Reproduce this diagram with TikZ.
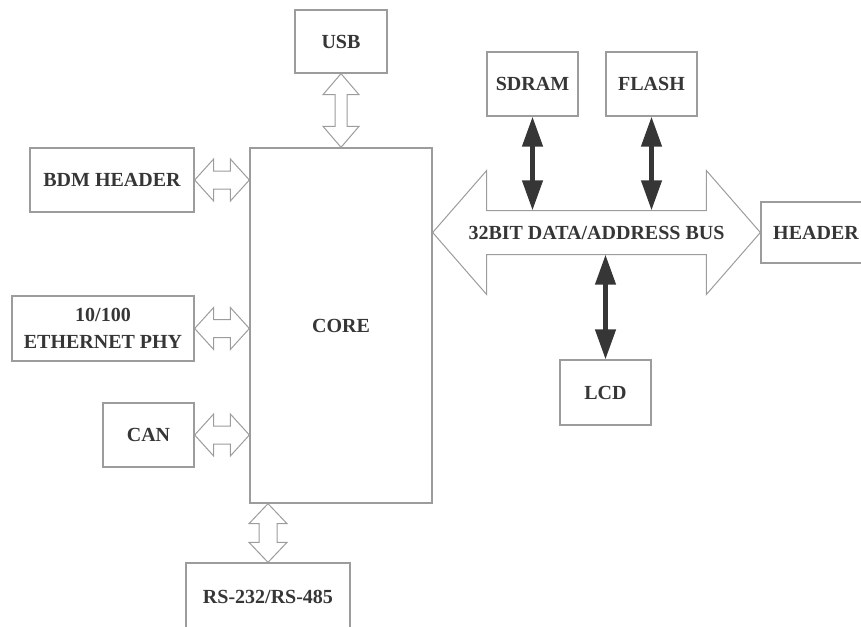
\documentclass[tikz,border=0pt]{standalone}
\usepackage{fontspec}
\setmainfont{Liberation Serif}
\usetikzlibrary{arrows.meta, calc}
\definecolor{boxgray}{HTML}{9C9C9C}
\definecolor{inkgray}{HTML}{363636}
\tikzset{
    blk/.style={draw=boxgray, line width=1.3pt, text=inkgray, inner sep=0pt, align=center,
        font=\bfseries\fontsize{20}{27}\selectfont},
    cell/.style={blk, minimum width=91, minimum height=64},
    hollow/.style={draw=boxgray, line width=1pt, fill=white, line join=miter},
    busline/.style={{Triangle[length=30pt,width=20pt]}-{Triangle[length=30pt,width=20pt]},
        draw=inkgray, line width=4.5pt},
}
\newcommand{\hollowarrow}[5]{%
    \coordinate (ha) at ($(#1)!#5!(#2)$);
    \coordinate (hb) at ($(#2)!#5!(#1)$);
    \draw[hollow] (#1) -- ($(ha)!#4!90:(#2)$) -- ($(ha)!#3!90:(#2)$)
        -- ($(hb)!#3!-90:(#1)$) -- ($(hb)!#4!-90:(#1)$) -- (#2)
        -- ($(hb)!#4!90:(#1)$) -- ($(hb)!#3!90:(#1)$)
        -- ($(ha)!#3!-90:(#2)$) -- ($(ha)!#4!-90:(#2)$) -- cycle;
}

\begin{document}
\begin{tikzpicture}[x=1pt, y=-1pt]
    \useasboundingbox (0,0) rectangle (861,626);

    \node[blk, minimum width=182, minimum height=355] (core) at (341,325.5) {CORE};
    \node[blk, minimum width=92, minimum height=63] (usb) at (341,41.5) {USB};
    \node[blk, minimum width=164, minimum height=64] (bdm) at (112,180) {BDM HEADER};
    \node[blk, minimum width=182, minimum height=65] (eth) at (103,328.5) {10/100\\ETHERNET PHY};
    \node[cell] (can) at (148.5,435) {CAN};
    \node[blk, minimum width=164, minimum height=68] (rs) at (268,597) {RS-232/RS-485};
    \node[cell] (sdram) at (532.5,84) {SDRAM};
    \node[cell] (flash) at (651.5,84) {FLASH};
    \node[blk, minimum width=110, minimum height=61] (header) at (816,232.5) {HEADER};
    \node[cell, minimum height=65] (lcd) at (605.5,392.5) {LCD};

    \coordinate (usbS) at (usb.south);
    \coordinate (coreN) at (core.north -| usb.south);
    \coordinate (rsN) at (rs.north);
    \coordinate (coreS) at (core.south -| rs.north);
    \coordinate (bdmE) at (bdm.east);
    \coordinate (coreB) at (core.west |- bdm.east);
    \coordinate (ethE) at (eth.east);
    \coordinate (coreE) at (core.west |- eth.east);
    \coordinate (canE) at (can.east);
    \coordinate (coreC) at (core.west |- can.east);
    \coordinate (busL) at (core.east |- header.west);
    \coordinate (busR) at (header.west);

    \hollowarrow{usbS}{coreN}{6pt}{18pt}{21pt}
    \hollowarrow{coreS}{rsN}{9pt}{19pt}{20pt}
    \hollowarrow{bdmE}{coreB}{9pt}{21pt}{19pt}
    \hollowarrow{ethE}{coreE}{9pt}{21pt}{19pt}
    \hollowarrow{canE}{coreC}{9pt}{21pt}{19pt}
    \hollowarrow{busL}{busR}{22pt}{62pt}{54pt}

    \node[text=inkgray, font=\bfseries\fontsize{20}{27}\selectfont, inner sep=0pt,
        minimum width=219, minimum height=44] (bus) at ($(busL)!0.5!(busR)$) {32BIT DATA/ADDRESS BUS};

    \draw[busline] (sdram.south) -- (sdram.south |- bus.north);
    \draw[busline] (flash.south) -- (flash.south |- bus.north);
    \draw[busline] (lcd.north) -- (lcd.north |- bus.south);
\end{tikzpicture}
\end{document}
